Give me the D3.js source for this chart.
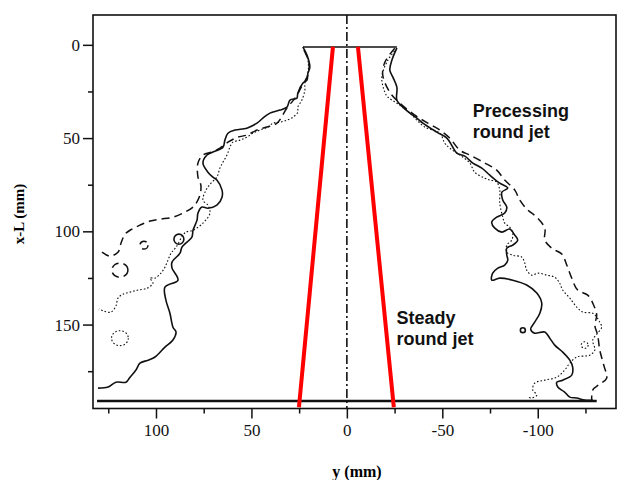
<html>
<head>
<meta charset="utf-8">
<script src="https://d3js.org/d3.v7.min.js"></script>
<style>
  body { margin: 0; padding: 0; background: #fff; }
  svg { display: block; }
  .tick text { font-family: "Liberation Serif", "DejaVu Serif", serif; font-size: 17px; fill: #111; }
  .tick line { stroke: #111; stroke-width: 1.5; }
  .domain { display: none; }
</style>
</head>
<body>
<script>

// contour traces, [y (mm), x-L (mm)]
var leftSolid = [[23.0,1.2],[20.9,5.5],[19.4,12.0],[20.4,15.2],[20.9,18.9],[23.0,20.5],[25.7,25.9],[26.2,28.6],[29.8,29.6],[31.4,33.4],[35.1,35.0],[40.3,36.6],[44.0,39.3],[47.1,42.0],[52.4,44.7],[58.6,45.7],[62.3,47.4],[63.9,51.1],[64.9,54.9],[70.2,57.5],[73.3,59.1],[75.4,63.4],[72.8,68.3],[70.2,70.9],[68.1,72.5],[65.4,77.9],[65.4,81.7],[68.1,86.0],[72.8,87.6],[75.9,87.0],[78.0,90.2],[78.5,94.0],[80.6,99.4],[81.2,103.1],[86.4,108.5],[87.4,111.7],[91.6,116.5],[91.6,119.7],[88.5,126.2],[95.3,129.9],[94.8,136.9],[92.7,143.9],[91.1,151.4],[89.5,154.0],[91.1,158.3],[95.3,162.1],[100.5,167.4],[104.2,169.1],[108.4,170.7],[110.5,174.4],[113.6,178.2],[115.7,180.9],[121.0,180.9],[125.1,183.5],[130.4,184.1]];
var leftDashed = [[22.5,2.8],[19.9,9.3],[20.4,16.2],[23.6,22.1],[26.7,28.0],[31.4,33.9],[36.6,42.0],[41.9,44.1],[47.1,45.7],[52.4,48.4],[57.1,49.5],[62.3,52.2],[66.5,55.4],[70.7,57.5],[75.4,59.1],[78.0,63.4],[78.0,70.9],[76.5,75.2],[77.0,80.6],[80.1,86.5],[84.8,89.7],[91.1,92.4],[97.9,93.5],[103.1,94.5],[108.4,96.7],[112.6,98.8],[116.2,101.5],[118.3,106.3],[119.9,111.2],[124.1,113.3],[128.3,111.2]];
var leftDotted = [[23.0,1.2],[20.4,8.2],[20.4,15.2],[22.0,20.5],[22.0,24.3],[23.6,29.7],[25.7,33.4],[25.7,36.1],[28.3,38.8],[31.4,40.4],[35.1,41.5],[38.7,42.0],[41.4,44.1],[45.6,45.7],[49.2,47.4],[52.4,49.5],[56.0,51.1],[59.7,52.2],[61.3,54.9],[62.8,59.1],[64.9,62.9],[66.5,66.1],[68.1,70.9],[71.2,74.2],[73.8,77.9],[75.4,83.3],[72.8,86.0],[71.7,90.2],[75.4,95.6],[80.6,99.4],[84.3,100.4],[85.9,102.1],[89.5,108.5],[92.1,111.7],[93.7,115.4],[95.3,119.2],[97.4,122.4],[100.5,125.1],[103.1,125.1],[101.6,127.8],[104.7,130.5],[109.4,131.5],[113.6,132.6],[117.3,133.7],[119.9,135.8],[121.0,140.1],[123.6,143.3],[127.2,142.8],[129.9,141.7]];

var rightSolid = [[-26.2,1.8],[-23.6,8.2],[-22.5,13.6],[-24.1,17.3],[-26.2,22.7],[-26.2,29.7],[-29.3,33.4],[-33.0,36.6],[-36.7,39.3],[-39.8,42.0],[-47.1,46.8],[-52.4,50.0],[-55.5,54.9],[-57.6,58.1],[-61.8,59.7],[-66.0,63.4],[-70.7,66.1],[-74.9,69.9],[-80.1,74.2],[-84.3,76.8],[-81.2,79.0],[-81.7,83.3],[-83.8,87.0],[-82.7,90.2],[-78.5,92.4],[-75.9,95.1],[-77.5,98.3],[-81.2,100.4],[-85.3,98.8],[-88.0,102.1],[-89.5,104.7],[-86.9,107.4],[-83.8,109.0],[-83.8,112.8],[-84.3,115.4],[-82.7,118.1],[-79.1,119.7],[-76.4,122.4],[-75.9,126.2],[-80.1,125.1],[-86.9,126.2],[-94.2,128.8],[-99.5,133.1],[-102.1,138.5],[-101.1,143.9],[-98.4,148.7],[-96.3,152.4],[-98.4,154.6],[-103.7,154.0],[-106.3,157.3],[-108.9,161.0],[-113.1,164.8],[-116.8,169.1],[-118.3,172.8],[-117.8,177.1],[-113.1,179.8],[-110.0,180.9],[-110.5,183.5],[-114.1,186.2],[-116.8,188.9],[-120.4,189.4],[-124.6,190.5],[-128.8,190.5]];
var rightDashed = [[-25.1,1.8],[-19.9,9.3],[-18.8,16.2],[-22.5,25.4],[-27.8,31.3],[-35.6,37.7],[-42.4,42.0],[-48.7,45.7],[-53.9,50.0],[-59.2,56.5],[-64.4,59.1],[-72.3,63.4],[-78.5,67.2],[-82.7,72.5],[-88.0,77.9],[-90.6,83.3],[-94.8,88.6],[-99.5,92.4],[-103.7,98.3],[-103.7,104.7],[-107.3,109.0],[-112.6,112.2],[-115.2,118.1],[-117.8,125.1],[-120.9,131.5],[-126.2,134.2],[-129.3,139.6],[-130.9,144.9],[-129.9,150.3],[-131.4,155.7],[-132.5,163.7],[-134.6,171.8],[-136.1,178.8],[-132.5,181.9],[-128.8,185.1],[-128.3,190.5]];
var rightDotted = [[-26.2,1.8],[-21.5,8.2],[-18.3,17.3],[-19.9,25.4],[-21.5,28.0],[-26.2,31.3],[-31.4,35.0],[-35.6,39.3],[-40.8,44.1],[-48.7,47.4],[-51.3,52.7],[-53.9,55.4],[-59.2,59.1],[-64.4,63.4],[-67.0,68.3],[-72.3,71.5],[-74.9,72.5],[-78.5,73.6],[-80.1,77.9],[-80.1,84.9],[-81.7,92.4],[-82.7,95.6],[-85.3,97.7],[-86.9,101.0],[-86.4,104.7],[-83.8,107.4],[-83.8,111.2],[-86.9,112.8],[-91.6,113.8],[-93.2,117.0],[-94.2,120.8],[-96.9,123.5],[-100.0,122.4],[-104.7,123.5],[-108.9,124.6],[-111.5,127.8],[-113.1,131.5],[-116.8,135.8],[-120.4,140.6],[-123.6,143.3],[-128.8,143.9],[-130.9,146.0],[-132.5,148.7],[-133.5,151.4],[-131.4,154.6],[-128.8,158.3],[-129.9,163.7],[-127.2,166.4],[-120.4,167.4],[-116.8,170.7],[-114.1,174.4],[-110.0,178.2],[-103.7,179.8],[-98.4,181.4],[-97.4,185.1],[-99.5,187.8],[-96.9,189.4],[-94.8,188.9]];

// small closed islands: centre [y, x-L], radii [y, x-L]
var islands = [
  {c: [88.0, 104.2], r: [2.6, 2.7], style: "solid"},
  {c: [-92.2, 153.0], r: [1.3, 1.3], style: "solid"},
  {c: [118.9, 157.3], r: [4.4, 4.0], style: "dotted"},
  {c: [-124.6, 161.0], r: [1.8, 1.8], style: "dotted"},
  {c: [118.9, 120.8], r: [4.2, 3.8], style: "dashed"},
  {c: [106.3, 107.4], r: [2.1, 2.1], style: "dashed"}
];

var nozzle = [[23.0,1.2],[-26.2,1.2]];
var wall = [[130.9,191.0],[-130.9,191.0]];
var steadyLeft = [[7.3,1.0],[25.1,194.3]];
var steadyRight = [[-5.8,1.0],[-24.6,194.3]];

var xMajor = [100, 50, 0, -50, -100];
var xMinor = [125, 75, 25, -25, -75, -125];
var yMajor = [0, 50, 100, 150];
var yMinor = [25, 75, 125, 175];

var labels = [
  {lines: ["Precessing", "round jet"], at: [-66, 38.5]},
  {lines: ["Steady", "round jet"], at: [-26, 149.8]}
];

var width = 621, height = 480;
var svg = d3.select("body").append("svg").attr("width", width).attr("height", height);

var x = d3.scaleLinear().domain([133, -141]).range([93, 616]);
var y = d3.scaleLinear().domain([-16, 195]).range([15, 408.5]);

// axes
svg.append("g").attr("transform", "translate(0,408.5)")
  .call(d3.axisBottom(x).tickValues(xMajor).tickSize(10).tickPadding(5).tickFormat(function(d) { return String(d); }));
svg.append("g").attr("transform", "translate(0,408.5)")
  .call(d3.axisBottom(x).tickValues(xMinor).tickSize(5).tickFormat(""));
svg.append("g").attr("transform", "translate(93,0)")
  .call(d3.axisLeft(y).tickValues(yMajor).tickSize(10).tickPadding(3));
svg.append("g").attr("transform", "translate(93,0)")
  .call(d3.axisLeft(y).tickValues(yMinor).tickSize(5).tickFormat(""));

svg.append("rect")
  .attr("x", x.range()[0]).attr("y", y.range()[0])
  .attr("width", x.range()[1] - x.range()[0]).attr("height", y.range()[1] - y.range()[0])
  .attr("fill", "none").attr("stroke", "#111").attr("stroke-width", 1.6);

// centre line
svg.append("line")
  .attr("x1", x(0)).attr("x2", x(0)).attr("y1", y.range()[0]).attr("y2", y.range()[1])
  .attr("stroke", "#111").attr("stroke-width", 1.6).attr("stroke-dasharray", "9,3,2,3");

var line = d3.line().x(function(d) { return x(d[0]); }).y(function(d) { return y(d[1]); });
var curvy = d3.line().x(function(d) { return x(d[0]); }).y(function(d) { return y(d[1]); }).curve(d3.curveCatmullRom);

var styles = {
  solid: {w: 1.6, dash: null},
  dashed: {w: 1.5, dash: "8,5"},
  dotted: {w: 1.1, dash: "1.6,2"}
};

function contour(data, st) {
  svg.append("path").attr("d", curvy(data))
    .attr("fill", "none").attr("stroke", "#111")
    .attr("stroke-width", styles[st].w)
    .attr("stroke-dasharray", styles[st].dash)
    .attr("stroke-linejoin", "round");
}

contour(leftDotted, "dotted");
contour(rightDotted, "dotted");
contour(leftDashed, "dashed");
contour(rightDashed, "dashed");
contour(leftSolid, "solid");
contour(rightSolid, "solid");

islands.forEach(function(d) {
  svg.append("ellipse")
    .attr("cx", x(d.c[0])).attr("cy", y(d.c[1]))
    .attr("rx", Math.abs(x(d.r[0]) - x(0))).attr("ry", Math.abs(y(d.r[1]) - y(0)))
    .attr("fill", "none").attr("stroke", "#111")
    .attr("stroke-width", styles[d.style].w)
    .attr("stroke-dasharray", styles[d.style].dash);
});

svg.append("path").attr("d", line(nozzle)).attr("stroke", "#111").attr("stroke-width", 1.5);
svg.append("path").attr("d", line(wall)).attr("stroke", "#111").attr("stroke-width", 2.4);

[steadyLeft, steadyRight].forEach(function(d) {
  svg.append("path").attr("d", line(d)).attr("stroke", "#ff0000").attr("stroke-width", 4);
});

labels.forEach(function(l) {
  var t = svg.append("text")
    .attr("x", x(l.at[0])).attr("y", y(l.at[1]))
    .attr("font-family", "Liberation Sans, Arial, sans-serif")
    .attr("font-weight", "bold").attr("font-size", 18).attr("fill", "#111");
  l.lines.forEach(function(s, i) {
    t.append("tspan").attr("x", x(l.at[0])).attr("dy", i ? 21 : 0).text(s);
  });
});

svg.append("text")
  .attr("transform", "translate(24,214) rotate(-90)")
  .attr("text-anchor", "middle")
  .attr("font-family", "Liberation Serif, serif").attr("font-weight", "bold").attr("font-size", 15)
  .text("x-L (mm)");

svg.append("text")
  .attr("x", 357).attr("y", 477)
  .attr("text-anchor", "middle")
  .attr("font-family", "Liberation Serif, serif").attr("font-weight", "bold").attr("font-size", 16)
  .text("y (mm)");

</script>
</body>
</html>
